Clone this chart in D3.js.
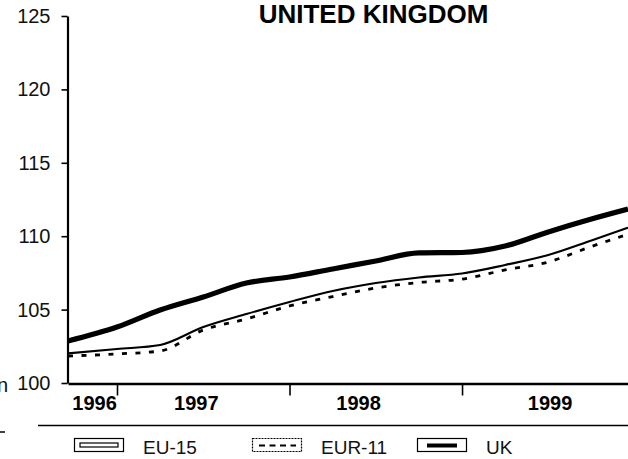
<!DOCTYPE html>
<html>
<head>
<meta charset="utf-8">
<script src="https://cdn.jsdelivr.net/npm/d3@7"></script>
<style>
  html, body { margin: 0; padding: 0; background: #fff; }
  svg { display: block; font-family: "Liberation Sans", Arial, Helvetica, sans-serif; }
</style>
</head>
<body>
<svg id="chart" width="628" height="459"></svg>
<script>
// ---- data ----
const title = "UNITED KINGDOM";
const periods = [1996.716, 1997.0, 1997.25, 1997.5, 1997.75, 1998.0, 1998.25, 1998.5, 1998.75, 1999.0, 1999.25, 1999.5, 1999.75, 1999.962];
const seriesNames = ["EU-15", "EUR-11", "UK"];
const eu15  = [102.02, 102.32, 102.59, 103.81, 104.70, 105.52, 106.27, 106.81, 107.19, 107.46, 108.04, 108.72, 109.71, 110.58];
const eur11 = [101.84, 101.98, 102.18, 103.61, 104.36, 105.25, 105.89, 106.47, 106.85, 107.08, 107.70, 108.24, 109.30, 110.13];
const uk    = [102.86, 103.81, 104.97, 105.86, 106.81, 107.22, 107.77, 108.31, 108.86, 108.89, 109.33, 110.29, 111.17, 111.85];
const yTicks = [100, 105, 110, 115, 120, 125];
const yearBoundaries = [1997, 1998, 1999];
const yearLabels = ["1996", "1997", "1998", "1999"];
const yearLabelAt = [1996.87, 1997.46, 1998.40, 1999.51];

// ---- layout / styles ----
const svg = d3.select("#chart");
const font = "'Liberation Sans', Arial, Helvetica, sans-serif";
const x = d3.scaleLinear().domain([periods[0], periods[periods.length - 1]]).range([68, 628]);
const y = d3.scaleLinear().domain([100, 125]).range([383, 16]);

const styles = {
  "EU-15":  { width: 2.1, dash: null },
  "EUR-11": { width: 2.8, dash: "5,8.5" },
  "UK":     { width: 5.2, dash: null }
};
const seriesValues = [eu15, eur11, uk];

// title
svg.append("text")
  .attr("x", 373.5).attr("y", 23)
  .attr("text-anchor", "middle")
  .attr("font-size", 26).attr("font-weight", "bold")
  .attr("fill", "#000")
  .text(title);

// y axis
const yAxis = svg.append("g")
  .attr("transform", "translate(67.5,0)")
  .call(d3.axisLeft(y).tickValues(yTicks).tickSize(6).tickSizeOuter(0).tickPadding(11).tickFormat(d3.format("d")));
yAxis.select(".domain").attr("stroke", "#000").attr("stroke-width", 2.2);
yAxis.selectAll(".tick line").attr("stroke", "#000").attr("stroke-width", 1.6);
yAxis.selectAll(".tick text").attr("font-size", 20).attr("font-family", font).attr("fill", "#111");

// x axis
const xAxis = svg.append("g")
  .attr("transform", "translate(0,383.5)")
  .call(d3.axisBottom(x).tickValues(yearBoundaries).tickSize(12).tickSizeOuter(0).tickFormat(""));
xAxis.select(".domain").attr("stroke", "#000").attr("stroke-width", 2.4);
xAxis.selectAll(".tick line").attr("stroke", "#000").attr("stroke-width", 1.6);

// year labels
svg.append("g").selectAll("text")
  .data(yearLabels)
  .join("text")
  .attr("x", (d, i) => x(yearLabelAt[i]))
  .attr("y", 410)
  .attr("text-anchor", "middle")
  .attr("font-size", 20).attr("font-weight", "bold")
  .attr("fill", "#000")
  .text(d => d);

// lines
const line = d3.line()
  .x((d, i) => x(periods[i]))
  .y(d => y(d))
  .curve(d3.curveMonotoneX);

svg.append("g").selectAll("path")
  .data(seriesNames)
  .join("path")
  .attr("d", (n, i) => line(seriesValues[i]))
  .attr("fill", "none")
  .attr("stroke", "#000")
  .attr("stroke-width", n => styles[n].width)
  .attr("stroke-dasharray", n => styles[n].dash)
  .attr("stroke-linejoin", "round");

// separator
svg.append("line")
  .attr("x1", 38).attr("x2", 628)
  .attr("y1", 425.5).attr("y2", 425.5)
  .attr("stroke", "#000").attr("stroke-width", 1.5);

// left-edge fragments from neighbouring content
svg.append("text").attr("x", -3).attr("y", 392).attr("font-size", 20).attr("fill", "#111").text("n");
svg.append("line").attr("x1", 0).attr("x2", 5).attr("y1", 432).attr("y2", 432).attr("stroke", "#000").attr("stroke-width", 1.5);

// legend
const legendX = [74, 252, 417];
const legend = svg.append("g").selectAll("g")
  .data(seriesNames)
  .join("g")
  .attr("transform", (d, i) => `translate(${legendX[i]},438)`);

legend.append("rect")
  .attr("x", 0.5).attr("y", 0.5).attr("width", 49).attr("height", 13)
  .attr("fill", "#fff").attr("stroke", "#000")
  .attr("stroke-width", 1.2)
  .attr("stroke-dasharray", d => d === "EUR-11" ? "2,1" : null);

legend.each(function (d) {
  const g = d3.select(this);
  if (d === "EU-15") {
    g.append("rect").attr("x", 6).attr("y", 5).attr("width", 38).attr("height", 4)
      .attr("fill", "none").attr("stroke", "#000").attr("stroke-width", 1.2);
  } else if (d === "EUR-11") {
    g.append("line").attr("x1", 7).attr("x2", 44).attr("y1", 7.5).attr("y2", 7.5)
      .attr("stroke", "#000").attr("stroke-width", 2).attr("stroke-dasharray", "6,4.5");
  } else {
    g.append("line").attr("x1", 10).attr("x2", 40).attr("y1", 7.5).attr("y2", 7.5)
      .attr("stroke", "#000").attr("stroke-width", 4);
  }
});

legend.append("text")
  .attr("x", 69).attr("y", 15.5)
  .attr("font-size", 19)
  .attr("fill", "#111")
  .text(d => d);
</script>
</body>
</html>
